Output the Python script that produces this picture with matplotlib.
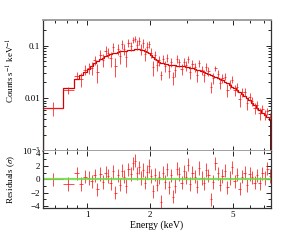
import numpy as np
import matplotlib
matplotlib.use("Agg")
import matplotlib.pyplot as plt
from matplotlib.ticker import FixedLocator, FixedFormatter, NullFormatter

plt.rcParams['font.family'] = ['Liberation Serif', 'DejaVu Serif']
plt.rcParams['mathtext.fontset'] = 'stix'

# bin edges (keV)
edges = [0.616, 0.765, 0.870, 0.920, 0.960, 1.000, 1.035, 1.070, 1.105, 1.140,
         1.175, 1.210, 1.245, 1.280, 1.315, 1.350, 1.385, 1.420, 1.455, 1.490,
         1.525, 1.560, 1.600, 1.640, 1.680, 1.720, 1.760, 1.800, 1.840, 1.880,
         1.920, 1.960, 2.000, 2.045, 2.090, 2.135, 2.180, 2.230, 2.280, 2.330,
         2.380, 2.430, 2.490, 2.550, 2.610, 2.670, 2.730, 2.800, 2.870, 2.940,
         3.010, 3.080, 3.160, 3.240, 3.320, 3.400, 3.490, 3.580, 3.670, 3.760,
         3.860, 3.960, 4.060, 4.170, 4.280, 4.390, 4.510, 4.630, 4.760, 4.890,
         5.020, 5.160, 5.300, 5.450, 5.600, 5.760, 5.920, 6.090, 6.260, 6.440,
         6.620, 6.810, 7.000, 7.200, 7.400, 7.600]

# folded model (counts/s/keV)
model = [0.0066, 0.0155, 0.023, 0.028, 0.032, 0.036, 0.041, 0.046, 0.051, 0.055,
         0.059, 0.063, 0.066, 0.069, 0.071, 0.073, 0.075, 0.077, 0.078, 0.079,
         0.080, 0.081, 0.082, 0.083, 0.084, 0.084, 0.084, 0.083, 0.082, 0.079,
         0.075, 0.071, 0.066, 0.061, 0.056, 0.052, 0.049, 0.047, 0.046, 0.045,
         0.044, 0.0435, 0.043, 0.0425, 0.042, 0.0415, 0.041, 0.0405, 0.040, 0.0392,
         0.0385, 0.0376, 0.0366, 0.0356, 0.0346, 0.0336, 0.0325, 0.0314, 0.0303, 0.0292,
         0.0280, 0.0268, 0.0256, 0.0243, 0.0230, 0.0217, 0.0204, 0.0191, 0.0178, 0.0166,
         0.0154, 0.0142, 0.0131, 0.0120, 0.0110, 0.0100, 0.0091, 0.0082, 0.0074, 0.0066,
         0.0059, 0.0053, 0.0047, 0.0043, 0.0039]

# residuals (sigma)
resid = [0.0, -0.7, 0.9, -0.7, 0.4, 0.2, -0.3, 0.6, -1.5, 0.8,
         -0.4, 1.0, 0.5, -0.6, 1.2, -2.0, 0.6, -0.8, 1.3, 0.4,
         -1.0, 1.5, 0.8, 2.4, 2.8, 0.9, 1.8, 0.2, 1.4, -0.5,
         1.1, 2.0, 0.5, -1.8, 0.7, -0.8, 0.3, -3.4, 1.0, -0.4,
         1.5, -1.2, 0.6, -2.6, -1.0, 1.6, 0.8, -0.5, 1.2, 0.3,
         2.2, -0.7, 1.0, 0.4, -1.1, 1.7, 0.2, -0.6, 1.4, 0.6,
         -3.0, -0.4, 2.4, 0.9, -0.8, 0.5, 1.3, -1.2, 0.2, 1.8,
         -0.3, 0.7, -1.4, 0.4, 1.0, -0.9, 0.8, 0.3, -0.5, 0.6,
         -0.6, 0.9, 0.2, 1.6, 0.5]

# fractional 1-sigma errors
rel_err = [0.30, 0.14, 0.18, 0.24, 0.22, 0.25, 0.26, 0.23, 0.25, 0.27,
           0.24, 0.26, 0.23, 0.27, 0.25, 0.22, 0.26, 0.24, 0.27, 0.25,
           0.26, 0.27, 0.24, 0.23, 0.22, 0.26, 0.25, 0.24, 0.26, 0.23,
           0.25, 0.24, 0.22, 0.20, 0.22, 0.21, 0.22, 0.12, 0.22, 0.21,
           0.22, 0.20, 0.22, 0.16, 0.20, 0.22, 0.21, 0.22, 0.20, 0.22,
           0.19, 0.22, 0.21, 0.22, 0.20, 0.21, 0.20, 0.22, 0.21, 0.20,
           0.14, 0.21, 0.18, 0.21, 0.20, 0.22, 0.20, 0.21, 0.22, 0.20,
           0.21, 0.22, 0.20, 0.22, 0.21, 0.22, 0.21, 0.20, 0.22, 0.21,
           0.22, 0.21, 0.22, 0.20, 0.22]

edges = np.array(edges)
model = np.array(model)
resid = np.array(resid)
err = np.array(rel_err) * model
data = model + resid * err
cen = np.sqrt(edges[:-1] * edges[1:])
xerr = [cen - edges[:-1], edges[1:] - cen]

fig = plt.figure(figsize=(3.0, 2.4), dpi=100)
ax1 = fig.add_axes([0.1433, 0.372, 0.76, 0.543])
ax2 = fig.add_axes([0.1433, 0.133, 0.76, 0.239], sharex=ax1)

# top: data + model
ax1.errorbar(cen, data, yerr=err, xerr=xerr, fmt='none', ecolor='#ff1a1a',
             elinewidth=0.7, alpha=0.8)
ax1.stairs(model, edges, color='#d40000', lw=0.9)
ax1.vlines(edges[-1], 1e-4, model[-1], color='#8b0000', lw=1.4)
ax1.set_xscale('log')
ax1.set_yscale('log')
ax1.set_xlim(edges[0], edges[-1])
ax1.set_ylim(1e-3, 0.3)
ax1.yaxis.set_major_locator(FixedLocator([1e-3, 1e-2, 1e-1]))
ax1.yaxis.set_major_formatter(FixedFormatter(['10$^{-3}$', '0.01', '0.1']))
ax1.yaxis.set_minor_formatter(NullFormatter())
ax1.set_ylabel('Counts s$^{-1}$ keV$^{-1}$', fontsize=6.5)
ax1.yaxis.set_label_coords(-0.115, 0.62)
plt.setp(ax1.get_xticklabels(), visible=False)

# bottom: residuals
ax2.errorbar(cen, resid, yerr=1.0, xerr=xerr, fmt='none', ecolor='#ff1a1a',
             elinewidth=0.7, alpha=0.8)
ax2.axhline(0, color='#66dd44', lw=1.6, alpha=0.85)
ax2.set_ylim(-4.3, 4.3)
ax2.yaxis.set_major_locator(FixedLocator([-4, -2, 0, 2, 4]))
ax2.yaxis.set_minor_locator(FixedLocator([-3, -1, 1, 3]))
ax2.set_ylabel(r'Residuals ($\sigma$)', fontsize=6.5)
ax2.yaxis.set_label_coords(-0.115, 0.5)
ax2.set_xlabel('Energy (keV)', fontsize=7, labelpad=1)
ax2.xaxis.set_major_locator(FixedLocator([1, 2, 5]))
ax2.xaxis.set_major_formatter(FixedFormatter(['1', '2', '5']))
ax2.xaxis.set_minor_locator(FixedLocator([0.7, 0.8, 0.9, 3, 4, 6, 7]))
ax2.xaxis.set_minor_formatter(NullFormatter())

for ax in (ax1, ax2):
    ax.tick_params(which='both', direction='in', top=True, right=True,
                   labelsize=6.5, pad=2, width=0.6)
    ax.tick_params(which='major', length=3.5)
    ax.tick_params(which='minor', length=2)
    for s in ax.spines.values():
        s.set_linewidth(0.9)
        s.set_color('#333333')

ax1.spines['top'].set_color('#999999')
ax1.spines['top'].set_linewidth(1.3)
ax1.spines['bottom'].set_color('#999999')
ax1.spines['bottom'].set_linewidth(1.3)
ax2.spines['top'].set_visible(False)

fig.savefig('out.png', dpi=100)
